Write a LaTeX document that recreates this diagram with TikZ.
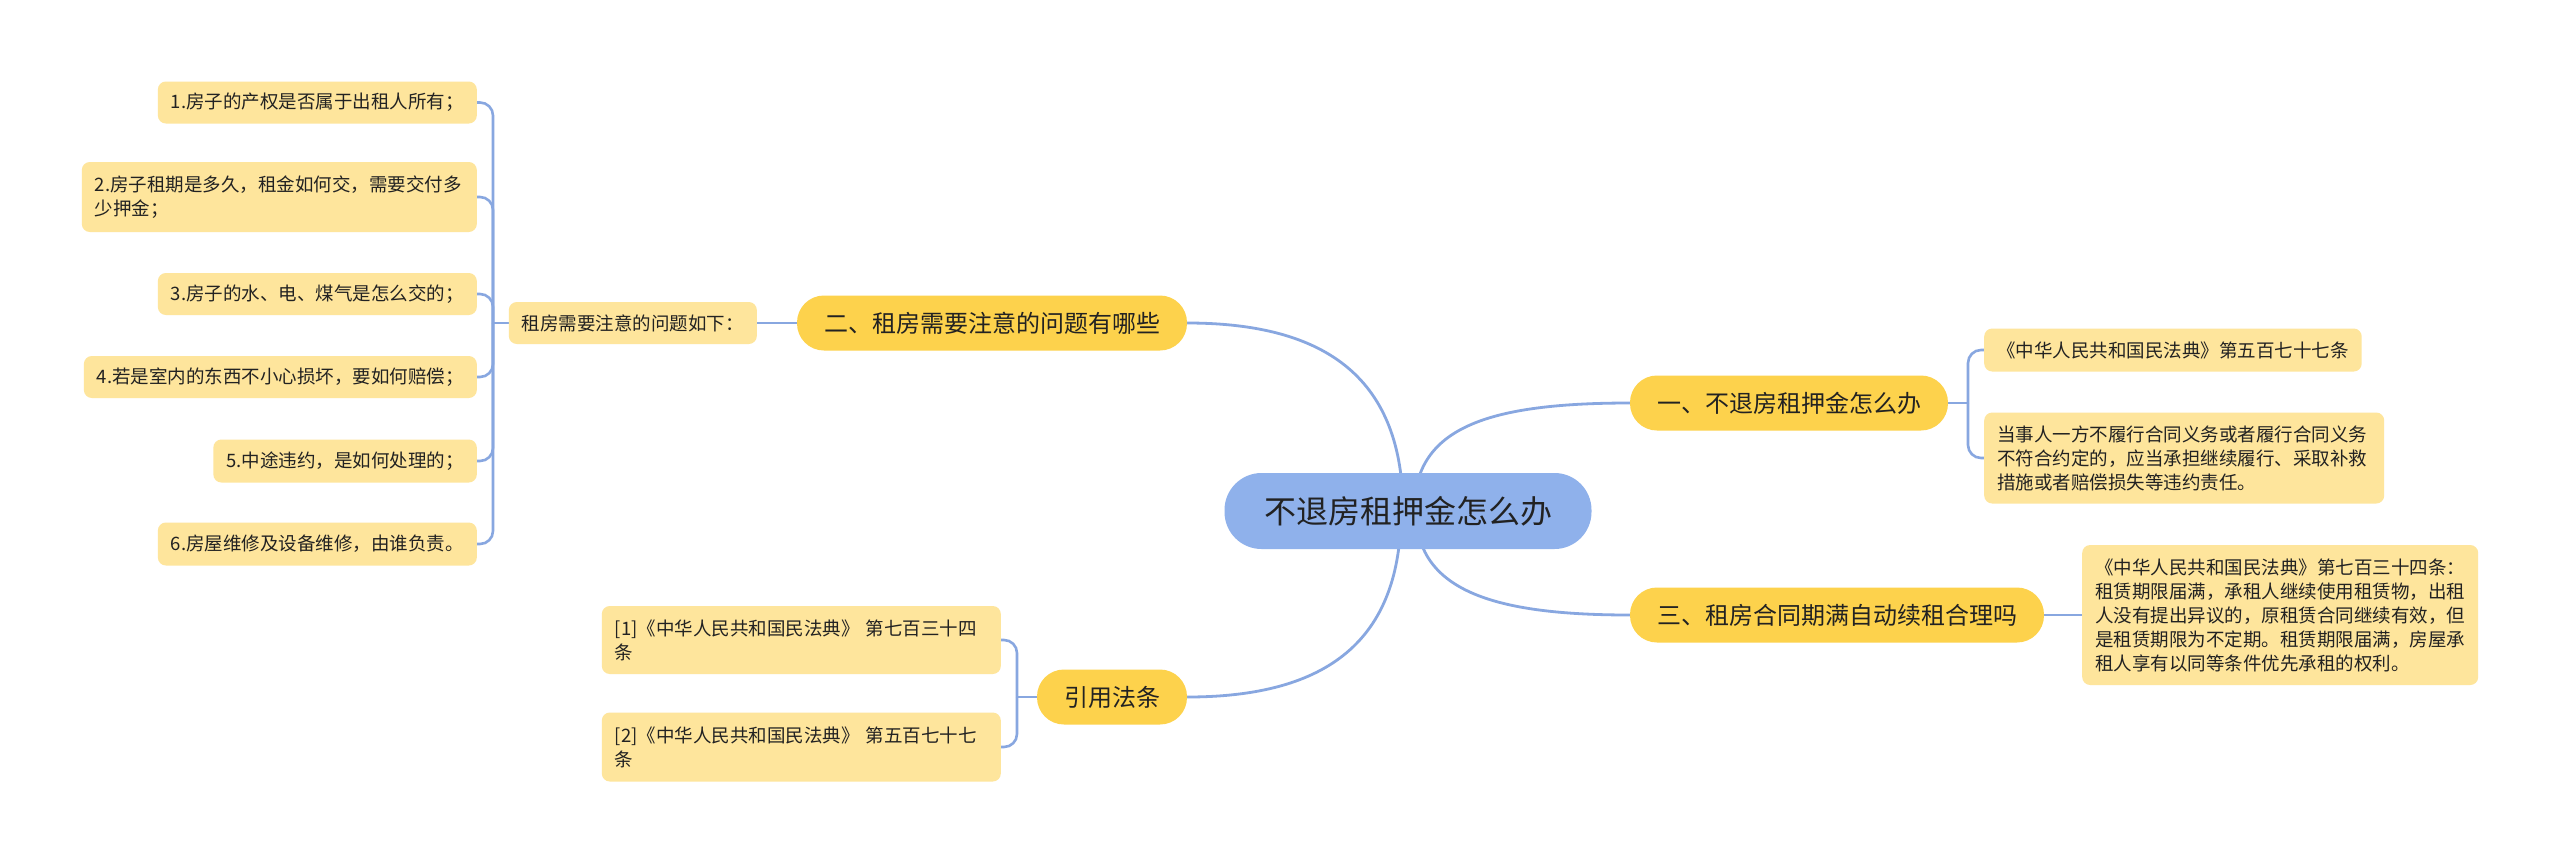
\documentclass[tikz,border=0pt]{standalone}
\usepackage{fontspec}
\setmainfont{Noto Sans CJK SC}
\usetikzlibrary{backgrounds}
\definecolor{rootfill}{HTML}{8FB1EB}
\definecolor{mainfill}{HTML}{FDD24C}
\definecolor{leaffill}{HTML}{FEE59C}
\definecolor{edgecol}{HTML}{88A7E0}
\definecolor{txt}{HTML}{222222}
\begin{document}
\begin{tikzpicture}[x=1pt,y=-1pt,
  rootbox/.style={fill=rootfill,rounded corners=37pt,minimum width=367pt,minimum height=76pt,inner sep=0pt,text=txt,font=\fontsize{32}{38}\selectfont},
  mainbox/.style={fill=mainfill,rounded corners=27pt,minimum height=55pt,inner xsep=27pt,inner ysep=0pt,text=txt,font=\fontsize{24}{30}\selectfont},
  leafbox/.style={fill=leaffill,rounded corners=8pt,inner xsep=13pt,inner ysep=0pt,text=txt,align=left,font=\fontsize{18.5}{24}\selectfont},
  link/.style={draw=edgecol,line width=2.8pt},
  brace/.style={draw=edgecol,line width=2.6pt,rounded corners=13pt}]
\useasboundingbox (0,0) rectangle (2560,863);

% root
\node[rootbox] (root) at (1408,511) {不退房租押金怎么办};

% main branches
\node[mainbox] (n1) at (1789,403) {一、不退房租押金怎么办};
\node[mainbox] (n2) at (992,323) {二、租房需要注意的问题有哪些};
\node[mainbox] (n3) at (1837,615) {三、租房合同期满自动续租合理吗};
\node[mainbox] (n4) at (1112,697) {引用法条};

% branch 1 leaves
\node[leafbox,anchor=west,minimum height=43pt] (a1) at (1984,350) {《中华人民共和国民法典》第五百七十七条};
\node[leafbox,anchor=west,minimum height=91pt,text width=374pt] (a2) at (1984,458) {当事人一方不履行合同义务或者履行合同义务\\不符合约定的，应当承担继续履行、采取补救\\措施或者赔偿损失等违约责任。};

% branch 2 leaves
\node[leafbox,anchor=east,minimum height=42pt] (tz) at (757,323) {租房需要注意的问题如下：};
\node[leafbox,anchor=east,minimum height=42pt] (i1) at (477,102.5) {1.房子的产权是否属于出租人所有；};
\node[leafbox,anchor=east,minimum height=70pt,text width=369pt] (i2) at (477,197) {2.房子租期是多久，租金如何交，需要交付多\\少押金；};
\node[leafbox,anchor=east,minimum height=42pt] (i3) at (477,294) {3.房子的水、电、煤气是怎么交的；};
\node[leafbox,anchor=east,minimum height=42pt] (i4) at (477,377) {4.若是室内的东西不小心损坏，要如何赔偿；};
\node[leafbox,anchor=east,minimum height=43pt] (i5) at (477,461) {5.中途违约，是如何处理的；};
\node[leafbox,anchor=east,minimum height=43pt] (i6) at (477,544) {6.房屋维修及设备维修，由谁负责。};

% branch 3 leaf
\node[leafbox,anchor=west,minimum height=140pt,text width=370pt] (c1) at (2082,615) {《中华人民共和国民法典》第七百三十四条：\\租赁期限届满，承租人继续使用租赁物，出租\\人没有提出异议的，原租赁合同继续有效，但\\是租赁期限为不定期。租赁期限届满，房屋承\\租人享有以同等条件优先承租的权利。};

% branch 4 leaves
\node[leafbox,anchor=east,minimum height=68pt,text width=373pt] (r1) at (1001,640) {[1]《中华人民共和国民法典》 第七百三十四\\条};
\node[leafbox,anchor=east,minimum height=69pt,text width=373pt] (r2) at (1001,747) {[2]《中华人民共和国民法典》 第五百七十七\\条};

% bracket junctions
\coordinate (b1) at (1968,403);
\coordinate (b2) at (493,323);
\coordinate (b4) at (1017,697);

\begin{scope}[on background layer]
  \fill[white] (0,0) rectangle (2560,863);
  % root to main
  \draw[link] (root.center) ++(6,0) .. controls +(0,-81) and +(-148,0) .. (n1.west);
  \draw[link] (n2.east) .. controls +(141,0) and +(0,-131) .. ([xshift=-5pt]root.center);
  \draw[link] (root.center) ++(8,0) .. controls +(0,79) and +(-138,0) .. (n3.west);
  \draw[link] (n4.east) .. controls +(141,0) and +(0,129) .. ([xshift=-7pt]root.center);
  % branch 1
  \draw[link] (n1.east) -- (b1);
  \draw[brace] (b1) |- (a1.west);
  \draw[brace] (b1) |- (a2.west);
  % branch 2
  \draw[link] (n2.west) -- (tz.east);
  \draw[link] (tz.west) -- (b2);
  \draw[brace] (b2) |- (i1.east);
  \draw[brace] (b2) |- (i2.east);
  \draw[brace] (b2) |- (i3.east);
  \draw[brace] (b2) |- (i4.east);
  \draw[brace] (b2) |- (i5.east);
  \draw[brace] (b2) |- (i6.east);
  % branch 3
  \draw[link] (n3.east) -- (c1.west);
  % branch 4
  \draw[link] (n4.west) -- (b4);
  \draw[brace] (b4) |- (r1.east);
  \draw[brace] (b4) |- (r2.east);
\end{scope}
\end{tikzpicture}
\end{document}
